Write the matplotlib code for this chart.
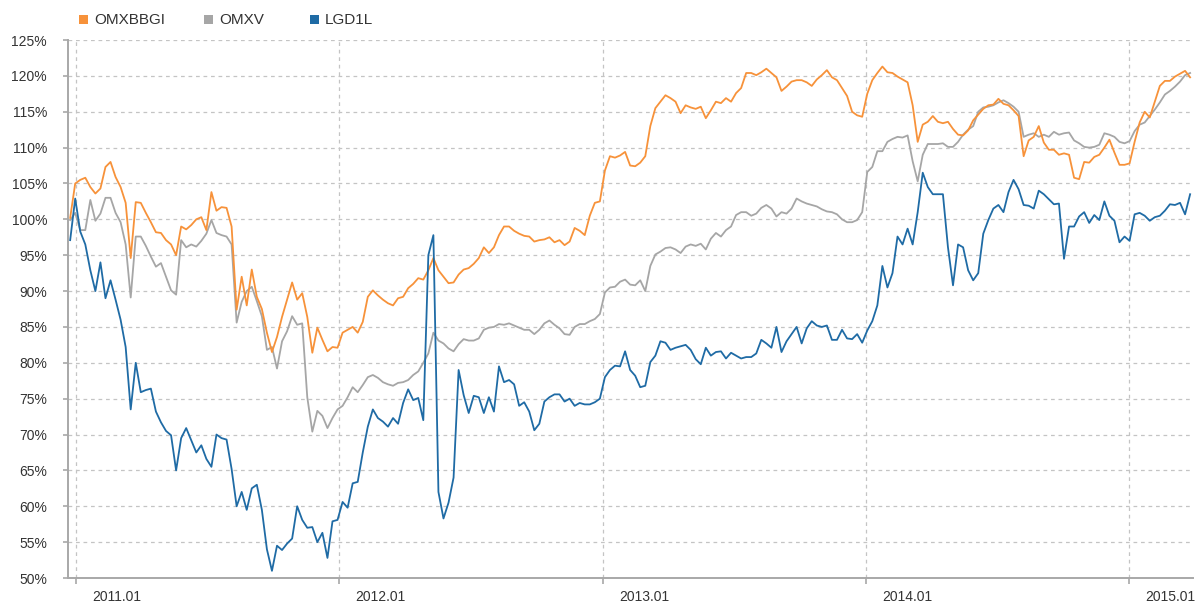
import pandas as pd
import matplotlib
matplotlib.use("Agg")
import matplotlib.pyplot as plt
import matplotlib.dates as mdates
import matplotlib.transforms as mtransforms
from matplotlib.patches import Rectangle

plt.rcParams['font.family'] = ['Liberation Sans', 'DejaVu Sans']

# weekly closes, rebased to 100% at start
start_date = "2010-12-24"
n_weeks = 223

omxbbgi = [
    100.2, 105.0, 105.5, 105.8, 104.5, 103.6, 104.3, 107.3, 108.0, 105.9,
    104.5, 102.3, 94.6, 102.4, 102.3, 100.9, 99.6, 98.2, 98.1, 97.1,
    96.5, 95.0, 99.0, 98.6, 99.2, 100.0, 100.3, 98.5, 103.8, 101.2,
    101.7, 101.6, 99.0, 87.4, 92.0, 88.0, 93.0, 89.2, 87.5, 84.2,
    81.5, 83.6, 86.4, 88.8, 91.2, 88.8, 89.7, 86.4, 81.4, 84.9,
    83.2, 81.6, 82.2, 82.1, 84.2, 84.6, 85.0, 84.2, 85.7, 89.2,
    90.1, 89.4, 88.8, 88.3, 88.0, 89.0, 89.2, 90.4, 91.0, 91.8,
    91.6, 92.9, 94.6, 92.9, 92.0, 91.1, 91.2, 92.3, 93.0, 93.2,
    93.8, 94.6, 96.1, 95.3, 96.1, 97.8, 99.0, 99.0, 98.4, 98.0,
    97.7, 97.6, 96.9, 97.1, 97.2, 97.5, 96.8, 97.1, 96.4, 96.9,
    98.8, 98.4, 97.8, 100.5, 102.3, 102.5, 106.8, 108.8, 108.6, 108.9,
    109.4, 107.5, 107.4, 107.9, 108.8, 113.0, 115.5, 116.4, 117.3, 116.9,
    116.4, 114.8, 115.9, 115.6, 115.4, 115.7, 114.1, 115.2, 116.4, 116.2,
    116.9, 116.4, 117.6, 118.3, 120.4, 120.4, 120.1, 120.5, 121.0, 120.4,
    119.8, 117.9, 118.5, 119.2, 119.4, 119.4, 119.1, 118.6, 119.5, 120.1,
    120.8, 119.8, 119.4, 118.3, 117.2, 115.0, 114.5, 114.3, 117.5, 119.4,
    120.4, 121.3, 120.5, 120.4, 119.9, 119.5, 119.1, 115.9, 110.8, 113.2,
    113.6, 114.4, 113.6, 113.4, 113.6, 112.6, 111.8, 111.7, 112.4, 113.8,
    114.6, 115.4, 115.9, 116.0, 116.8, 116.1, 115.9, 115.2, 114.4, 108.8,
    111.0, 111.5, 113.0, 110.7, 109.7, 109.7, 109.0, 109.2, 109.0, 105.8,
    105.6, 108.0, 107.9, 108.7, 109.0, 110.0, 111.1, 109.3, 107.6, 107.6,
    107.8, 110.8, 113.5, 115.0, 114.2, 116.4, 118.6, 119.3, 119.3, 119.9,
    120.3, 120.7, 119.8,
]

omxv = [
    99.9, 100.9, 98.5, 98.5, 102.7, 99.8, 100.8, 103.0, 103.0, 100.9,
    99.6, 96.5, 89.1, 97.6, 97.6, 96.3, 94.8, 93.4, 93.9, 92.0,
    90.1, 89.5, 97.1, 96.1, 96.5, 96.2, 97.0, 98.0, 99.9, 98.1,
    97.8, 97.6, 96.5, 85.6, 88.5, 90.0, 90.6, 88.6, 86.5, 81.8,
    82.2, 79.2, 83.0, 84.4, 86.5, 85.3, 85.5, 75.2, 70.4, 73.3,
    72.6, 70.9, 72.3, 73.5, 74.0, 75.2, 76.6, 75.9, 76.9, 78.0,
    78.3, 77.9, 77.3, 77.0, 76.8, 77.2, 77.3, 77.6, 78.3, 78.8,
    80.0, 81.3, 84.2, 83.1, 82.7, 82.0, 81.6, 82.6, 83.3, 83.1,
    83.1, 83.4, 84.6, 84.9, 85.0, 85.4, 85.3, 85.5, 85.2, 84.9,
    84.6, 84.6, 84.0, 84.6, 85.5, 85.9, 85.3, 84.8, 84.0, 83.9,
    85.0, 85.4, 85.4, 85.8, 86.1, 86.8, 89.8, 90.5, 90.6, 91.3,
    91.6, 90.9, 90.8, 91.5, 90.0, 93.5, 95.1, 95.5, 96.0, 96.1,
    95.8, 95.3, 96.2, 96.5, 96.3, 96.6, 95.8, 97.3, 98.1, 97.6,
    98.5, 99.0, 100.6, 101.0, 101.0, 100.5, 100.8, 101.6, 102.0, 101.5,
    100.4, 101.0, 100.8, 101.5, 102.9, 102.5, 102.2, 102.0, 101.8, 101.4,
    101.1, 101.0, 100.7, 100.0, 99.6, 99.6, 99.9, 101.0, 106.6, 107.3,
    109.5, 109.5, 110.8, 111.2, 111.5, 111.4, 111.7, 108.1, 105.3, 109.0,
    110.5, 110.5, 110.5, 110.6, 110.1, 110.1, 110.8, 111.8, 112.5, 113.0,
    115.0, 115.6, 115.7, 115.9, 116.3, 116.6, 116.2, 115.7, 115.0, 111.5,
    111.8, 112.0, 111.5, 111.8, 111.5, 112.2, 111.8, 112.0, 112.1, 111.0,
    110.6, 110.1, 110.0, 110.1, 110.4, 112.0, 111.8, 111.5, 110.8, 110.6,
    110.9, 112.3, 113.2, 113.5, 114.4, 115.3, 116.3, 117.4, 117.9, 118.5,
    119.2, 120.1, 120.4,
]

lgd1l = [
    97.1, 102.9, 98.3, 96.5, 92.9, 90.0, 94.0, 89.0, 91.5, 88.8,
    86.0, 82.2, 73.5, 80.0, 75.9, 76.2, 76.4, 73.2, 71.7, 70.5,
    69.9, 65.0, 69.5, 70.9, 69.2, 67.5, 68.5, 66.6, 65.5, 70.0,
    69.5, 69.3, 65.2, 60.0, 62.0, 59.5, 62.5, 63.0, 59.5, 54.0,
    51.0, 54.5, 53.9, 54.8, 55.5, 60.0, 58.1, 57.0, 57.1, 55.0,
    56.3, 52.8, 57.9, 58.1, 60.6, 59.8, 63.2, 63.4, 67.5, 71.1,
    73.5, 72.3, 71.8, 71.1, 72.3, 71.5, 74.4, 76.3, 74.8, 75.1,
    72.0, 95.0, 97.8, 62.0, 58.3, 60.5, 64.0, 79.0, 75.5, 73.0,
    75.4, 75.2, 73.0, 75.2, 73.2, 79.5, 77.3, 77.6, 77.0, 74.0,
    74.5, 73.2, 70.6, 71.5, 74.6, 75.2, 75.6, 75.6, 74.6, 75.0,
    74.0, 74.4, 74.2, 74.2, 74.5, 75.0, 78.0, 79.0, 79.6, 79.5,
    81.6, 79.0, 78.2, 76.6, 76.8, 80.1, 81.0, 83.0, 82.8, 81.8,
    82.1, 82.3, 82.5, 81.8, 80.5, 79.8, 82.1, 81.0, 81.5, 81.6,
    80.6, 81.4, 81.0, 80.6, 80.8, 80.8, 81.3, 83.2, 82.7, 82.1,
    85.0, 81.5, 83.0, 84.0, 85.0, 82.7, 84.8, 85.8, 85.2, 85.0,
    85.2, 83.2, 83.2, 84.6, 83.4, 83.3, 84.0, 82.8, 84.5, 85.8,
    88.0, 93.5, 90.5, 92.5, 97.6, 96.5, 98.7, 96.5, 101.0, 106.5,
    104.5, 103.5, 103.5, 103.5, 96.1, 90.8, 96.5, 96.1, 92.9, 91.5,
    92.5, 98.0, 99.9, 101.5, 102.0, 101.0, 103.8, 105.5, 104.2, 102.0,
    101.9, 101.5, 104.0, 103.5, 102.8, 102.1, 102.2, 94.5, 99.0, 99.0,
    100.4, 101.0, 99.5, 100.6, 99.9, 102.5, 100.5, 99.8, 96.8, 97.6,
    97.0, 100.7, 100.9, 100.5, 99.8, 100.3, 100.5, 101.2, 102.1, 102.0,
    102.3, 100.7, 103.5,
]

names = ["OMXBBGI", "OMXV", "LGD1L"]
colors = ["#f7923a", "#a6a6a6", "#1f6ba5"]
y_ticks = list(range(50, 130, 5))
year_ticks = ["2011-01-01", "2012-01-01", "2013-01-01", "2014-01-01", "2015-01-01"]

dates = pd.date_range(start_date, periods=n_weeks, freq="7D")

fig = plt.figure(figsize=(11.95, 6.08), dpi=100)
ax = fig.add_axes([68 / 1195, 30 / 608, 1125 / 1195, 538 / 608])

ax.plot(dates, omxv, color=colors[1], lw=1.3, zorder=3)
ax.plot(dates, omxbbgi, color=colors[0], lw=1.3, zorder=4)
ax.plot(dates, lgd1l, color=colors[2], lw=1.3, zorder=5)

ax.set_xlim(pd.Timestamp("2010-12-21"), pd.Timestamp("2015-03-31"))
ax.set_ylim(50, 125)

ax.set_yticks(y_ticks)
ax.set_yticklabels([f"{v}%" for v in y_ticks])
ax.set_xticks(pd.to_datetime(year_ticks))
ax.xaxis.set_major_formatter(mdates.DateFormatter("%Y.%m"))

grid_kw = dict(color="#c4c4c4", lw=0.9, linestyle=(0, (3, 3)))
ax.grid(True, axis="both", **grid_kw)
ax.set_axisbelow(True)

for side in ["top", "right"]:
    ax.spines[side].set_visible(False)
for side in ["left", "bottom"]:
    ax.spines[side].set_color("#a8a8a8")
    ax.spines[side].set_linewidth(1.4)

ax.tick_params(axis="y", length=3.6, width=1.2, color="#a8a8a8", pad=11.5,
               labelsize=10, labelcolor="#333333")
ax.tick_params(axis="x", length=4.3, width=1.2, color="#a8a8a8", pad=4.5,
               labelsize=10, labelcolor="#333333")

offset = mtransforms.ScaledTranslation(16 / 100, 0, fig.dpi_scale_trans)
for lab in ax.get_xticklabels():
    lab.set_horizontalalignment("left")
    lab.set_transform(lab.get_transform() + offset)

# legend on top
leg_x = [79, 204, 310]
for name, col, x in zip(names, colors, leg_x):
    fig.patches.append(Rectangle((x / 1195, (608 - 24) / 608), 9 / 1195, 9 / 608,
                                 transform=fig.transFigure, facecolor=col,
                                 edgecolor="none"))
    fig.text((x + 15) / 1195, (608 - 19.5) / 608, name, fontsize=11,
             color="#333333", va="center", ha="left")

fig.savefig("out.png", dpi=100)
